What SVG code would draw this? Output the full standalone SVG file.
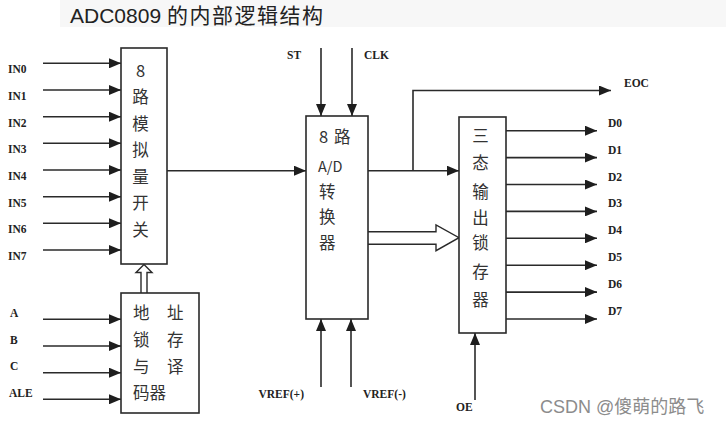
<svg xmlns="http://www.w3.org/2000/svg" width="726" height="425" viewBox="0 0 726 425">
  <style>
    .box { fill: #fff; stroke: #2a2a2a; stroke-width: 1.6; }
    .wire { fill: none; stroke: #2a2a2a; stroke-width: 1.6; }
    .bus { fill: #fff; stroke: #2a2a2a; stroke-width: 1.4; stroke-linejoin: miter; }
    .pin { font-family: "Liberation Serif", serif; font-weight: bold; font-size: 11.5px; fill: #222; }
    .cn { font-family: "Noto Sans CJK SC", "Liberation Sans", sans-serif; font-size: 16.5px; fill: #333; }
    .title { font-family: "Liberation Sans", "Noto Sans CJK SC", sans-serif; font-size: 21px; fill: #222; }
    .mark { font-family: "Liberation Sans", "Noto Sans CJK SC", sans-serif; font-size: 18px; fill: #8c8c8c; }
  </style>
  <defs>
    <marker id="arr" viewBox="0 0 12 10" refX="12" refY="5" markerWidth="12" markerHeight="10" markerUnits="userSpaceOnUse" orient="auto">
      <path d="M0,0 L12,5 L0,10 z" fill="#1e1e1e"/>
    </marker>
  </defs>

  <rect width="726" height="425" fill="#fff"/>
  <rect x="60" y="0" width="666" height="27" fill="#f7f7f7"/>
  <text class="title" x="70" y="23">ADC0809 <tspan letter-spacing="1.5">的内部逻辑结构</tspan></text>

  <!-- signal lines and buses -->
  <g id="connectors">
    <!-- analog inputs into the multiplexer -->
    <g marker-end="url(#arr)" class="wire">
      <path d="M43,63.3 H121"/>
      <path d="M43,90 H121"/>
      <path d="M43,116.7 H121"/>
      <path d="M43,143.3 H121"/>
      <path d="M43,170 H121"/>
      <path d="M43,196.7 H121"/>
      <path d="M43,223.3 H121"/>
      <path d="M43,250 H121"/>
      <!-- address / latch enable -->
      <path d="M43,319.3 H121"/>
      <path d="M43,346 H121"/>
      <path d="M43,372.7 H121"/>
      <path d="M43,399.3 H121"/>
      <!-- multiplexer to converter -->
      <path d="M167,170.7 H306"/>
      <!-- start and clock -->
      <path d="M321,48 V116"/>
      <path d="M352,48 V116"/>
      <!-- reference voltages -->
      <path d="M321,387 V319"/>
      <path d="M351,387 V319"/>
      <!-- converter to latch -->
      <path d="M368,170.7 H459"/>
      <!-- end of conversion -->
      <path d="M413,170.7 V90.5 H611"/>
      <!-- output enable -->
      <path d="M475,400 V333"/>
      <!-- data outputs -->
      <path d="M506,130.7 H597"/>
      <path d="M506,157.6 H597"/>
      <path d="M506,184.5 H597"/>
      <path d="M506,211.4 H597"/>
      <path d="M506,238.3 H597"/>
      <path d="M506,265.2 H597"/>
      <path d="M506,292.1 H597"/>
      <path d="M506,319 H597"/>
    </g>
    <!-- hollow bus arrows -->
    <path class="bus" d="M141,293 V272.5 H136 L144,264.5 L152,272.5 H147 V293"/>
    <path class="bus" d="M368,231.7 H436 V225 L459,237.7 L436,250.7 V244.3 H368"/>
  </g>

  <!-- pin labels -->
  <g id="labels">
    <text class="pin" x="8" y="73.3">IN0</text>
    <text class="pin" x="8" y="100">IN1</text>
    <text class="pin" x="8" y="126.7">IN2</text>
    <text class="pin" x="8" y="153.3">IN3</text>
    <text class="pin" x="8" y="180">IN4</text>
    <text class="pin" x="8" y="206.7">IN5</text>
    <text class="pin" x="8" y="233.3">IN6</text>
    <text class="pin" x="8" y="260">IN7</text>
    <text class="pin" x="10" y="316.8">A</text>
    <text class="pin" x="10" y="343.5">B</text>
    <text class="pin" x="10" y="370.2">C</text>
    <text class="pin" x="9" y="396.8">ALE</text>
    <text class="pin" x="287" y="59">ST</text>
    <text class="pin" x="364" y="59">CLK</text>
    <text class="pin" x="304" y="398" text-anchor="end">VREF(+)</text>
    <text class="pin" x="363" y="398">VREF(-)</text>
    <text class="pin" x="456" y="411">OE</text>
    <text class="pin" x="624" y="87">EOC</text>
    <text class="pin" x="608" y="126.7">D0</text>
    <text class="pin" x="608" y="153.6">D1</text>
    <text class="pin" x="608" y="180.5">D2</text>
    <text class="pin" x="608" y="207.4">D3</text>
    <text class="pin" x="608" y="234.3">D4</text>
    <text class="pin" x="608" y="261.2">D5</text>
    <text class="pin" x="608" y="288.1">D6</text>
    <text class="pin" x="608" y="315">D7</text>
  </g>

  <g id="mux">
    <rect class="box" x="121" y="48" width="46" height="216"/>
    <g class="cn" text-anchor="middle">
      <text x="140.5" y="76.7">8</text>
      <text x="140.5" y="102.7">路</text>
      <text x="140.5" y="130">模</text>
      <text x="140.5" y="156">拟</text>
      <text x="140.5" y="182.7">量</text>
      <text x="140.5" y="209">开</text>
      <text x="140.5" y="236">关</text>
    </g>
  </g>

  <g id="addr-decoder">
    <rect class="box" x="121" y="293" width="78" height="120"/>
    <g class="cn">
      <text x="133" y="318.7">地</text>
      <text x="167" y="318.7">址</text>
      <text x="133" y="346">锁</text>
      <text x="167" y="346">存</text>
      <text x="133" y="372.7">与</text>
      <text x="167" y="372.7">译</text>
      <text x="133" y="399">码器</text>
    </g>
  </g>

  <g id="adc">
    <rect class="box" x="306" y="116" width="62" height="203"/>
    <g class="cn">
      <text x="319" y="142.7">8</text>
      <text x="334" y="142.7">路</text>
      <text x="318" y="171.5" style="font-size:14.5px">A/D</text>
      <text x="319" y="197.7">转</text>
      <text x="319" y="222.7">换</text>
      <text x="319" y="249">器</text>
    </g>
  </g>

  <g id="latch">
    <rect class="box" x="459" y="117" width="47" height="216"/>
    <g class="cn" text-anchor="middle">
      <text x="480.5" y="142">三</text>
      <text x="480.5" y="169.3">态</text>
      <text x="480.5" y="197.7">输</text>
      <text x="480.5" y="224">出</text>
      <text x="480.5" y="249">锁</text>
      <text x="480.5" y="278.3">存</text>
      <text x="480.5" y="306">器</text>
    </g>
  </g>

  <text class="mark" x="540" y="413">CSDN @傻萌的路飞</text>
</svg>
